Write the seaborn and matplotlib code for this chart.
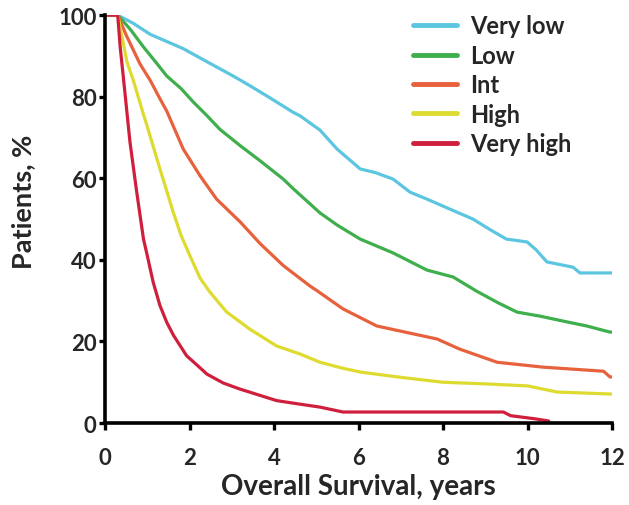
import matplotlib
matplotlib.use("Agg")
import matplotlib.pyplot as plt
import seaborn as sns
import pandas as pd

# Kaplan-Meier overall survival by risk group (years, % of patients alive)
groups = ["Very low", "Low", "Int", "High", "Very high"]
colors = ["#5cc6e0", "#3fae4c", "#e8613d", "#dedb30", "#cf1f3c"]

very_low_t = [0, 0.3, 0.67, 1.07, 1.45, 1.85, 2.41, 3.03, 3.43, 3.83, 4.45, 4.62,
              5.09, 5.49, 6.04, 6.4, 6.82, 7.22, 7.62, 8.33, 8.71, 9.1, 9.5, 9.99,
              10.2, 10.46, 11.08, 11.24, 12.0]
very_low_v = [100, 100, 98.0, 95.3, 93.6, 91.8, 88.6, 85.1, 82.7, 80.2, 76.2, 75.3,
              71.8, 67.2, 62.3, 61.4, 59.8, 56.6, 54.9, 51.7, 50, 47.5, 45.1, 44.4,
              42.5, 39.5, 38.2, 36.8, 36.8]

low_t = [0, 0.3, 0.6, 0.91, 1.2, 1.46, 1.8, 2.09, 2.4, 2.72, 3.2, 3.67, 4.22, 4.45,
         5.09, 5.5, 6.04, 6.82, 7.62, 8.24, 8.8, 9.3, 9.75, 10.3, 10.84, 11.4,
         11.95, 12.0]
low_v = [100, 100, 96.5, 92.2, 88.5, 85.1, 82, 78.7, 75.5, 72, 68, 64.3, 59.8, 57.5,
         51.5, 48.5, 45.1, 41.7, 37.5, 35.8, 32.3, 29.5, 27.2, 26.2, 25, 23.8,
         22.3, 22.3]

int_t = [0, 0.3, 0.51, 0.83, 1.07, 1.3, 1.46, 1.85, 2.25, 2.64, 3.2, 3.67, 4.22,
         4.85, 5.01, 5.63, 6.43, 7.1, 7.86, 8.4, 9.28, 10.37, 11.8, 11.95, 12.0]
int_v = [100, 100, 94.9, 88, 84, 79.5, 76.5, 67.2, 60.6, 54.9, 49.3, 44, 38.6,
         33.6, 32.5, 28, 23.8, 22.3, 20.6, 18.1, 14.9, 13.7, 12.7, 11.3, 11.3]

high_t = [0, 0.3, 0.52, 0.67, 0.9, 0.99, 1.3, 1.62, 1.8, 2.01, 2.25, 2.49, 2.88,
          3.43, 4.06, 4.62, 5.09, 5.6, 6.04, 7.0, 8.0, 9.0, 10.0, 10.7, 12.0]
high_v = [100, 100, 88.5, 84, 76, 73, 62.3, 51.5, 46, 41.0, 35.5, 32, 27.2,
          23, 18.9, 16.9, 14.9, 13.5, 12.5, 11.2, 10, 9.6, 9.1, 7.6, 7.1]

very_high_t = [0, 0.3, 0.36, 0.43, 0.59, 0.75, 0.91, 0.99, 1.14, 1.3, 1.46, 1.62,
               1.93, 2.2, 2.41, 2.8, 3.2, 3.6, 4.06, 4.5, 5.09, 5.63, 9.43, 9.6,
               10.2, 10.5]
very_high_v = [100, 100, 92, 85.1, 68.9, 56.6, 45.1, 41.5, 34.5, 28.8, 24.7, 21.5,
               16.5, 14, 12, 9.8, 8.3, 7, 5.5, 4.8, 3.9, 2.7, 2.7, 1.8,
               1.0, 0.5]

x_ticks = [0, 2, 4, 6, 8, 10, 12]
y_ticks = [0, 20, 40, 60, 80, 100]

series = {
    "Very low": (very_low_t, very_low_v),
    "Low": (low_t, low_v),
    "Int": (int_t, int_v),
    "High": (high_t, high_v),
    "Very high": (very_high_t, very_high_v),
}
frames = []
for name in groups:
    t, v = series[name]
    frames.append(pd.DataFrame({"years": t, "pct": v, "group": name}))
df = pd.concat(frames, ignore_index=True)

sns.set_theme(style="ticks")
plt.rcParams["font.family"] = ["Lato", "DejaVu Sans"]
plt.rcParams["font.weight"] = "bold"

fig = plt.figure(figsize=(6.29, 5.06), dpi=100)
ax = fig.add_axes([0.167, 0.162, 0.806, 0.806])

sns.lineplot(data=df, x="years", y="pct", hue="group", hue_order=groups,
             palette=colors, sort=False, estimator=None, linewidth=2.3, ax=ax)
for line in ax.get_lines():
    line.set_solid_joinstyle("round")

ax.set_xlim(0, 12)
ax.set_ylim(0, 100)
ax.set_xticks(x_ticks)
ax.set_yticks(y_ticks)
ax.tick_params(axis="x", labelsize=16, width=2.4, length=5, direction="out", pad=12, color="black")
ax.tick_params(axis="y", labelsize=16, width=2.4, length=4.5, direction="out", pad=1.5, color="black")
for lbl in ax.get_xticklabels() + ax.get_yticklabels():
    lbl.set_fontweight("bold")

for side in ["top", "right"]:
    ax.spines[side].set_visible(False)
for side in ["left", "bottom"]:
    ax.spines[side].set_linewidth(2.6)
    ax.spines[side].set_color("black")

ax.set_xlabel("Overall Survival, years", fontsize=20, fontweight="bold", labelpad=4)
ax.set_ylabel("Patients, %", fontsize=19.5, fontweight="bold")
ax.yaxis.set_label_coords(-0.138, 0.544)

leg = ax.legend(loc="upper left", bbox_to_anchor=(0.589, 1.025), frameon=False,
                fontsize=17, handlelength=1.86, handletextpad=0.55, labelspacing=0.27,
                borderaxespad=0.0, title=None)
for line in leg.get_lines():
    line.set_linewidth(3.5)
for txt in leg.get_texts():
    txt.set_fontweight("bold")

fig.savefig("out.png", dpi=100)
